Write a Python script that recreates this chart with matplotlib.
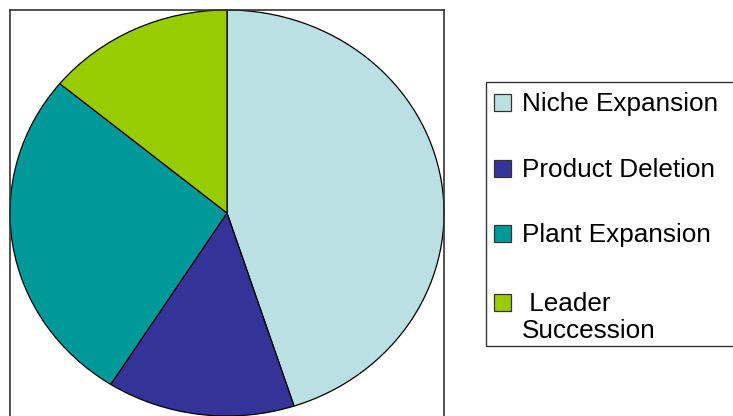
import matplotlib
matplotlib.use("Agg")
import matplotlib.pyplot as plt
from matplotlib.patches import Rectangle

labels = ["Niche Expansion", "Product Deletion", "Plant Expansion", " Leader\nSuccession"]
shares = [45, 14, 27, 14]
colors = ["#BBE0E3", "#333399", "#009999", "#99CC00"]

W, H = 733, 416
fig = plt.figure(figsize=(W / 100, H / 100), dpi=100)

def fx(x):
    return x / W

def fy(y):
    return 1 - y / H

# pie area: frame from x=10..444, top y=10, runs past the bottom
ax = fig.add_axes([fx(10), fy(430), 434 / W, 420 / H])
ax.pie(shares, colors=colors, startangle=90, counterclock=False,
       wedgeprops=dict(edgecolor="black", linewidth=0.9))
ax.set_aspect("auto")
ax.set_xlim(-1, 1)
ax.set_ylim(-(430 - 213) / 203, 1)
ax.set_frame_on(True)
ax.set_xticks([])
ax.set_yticks([])
for side in ["left", "top", "right"]:
    ax.spines[side].set_color("#333333")
    ax.spines[side].set_linewidth(1.2)
ax.spines["bottom"].set_visible(False)

# legend box
fig.patches.append(Rectangle((fx(486), fy(346)), (760 - 486) / W, (346 - 82) / H,
                             transform=fig.transFigure, facecolor="white",
                             edgecolor="#333333", linewidth=1.0))

bottoms = [111, 177, 242, 311]
for lab, col, yb in zip(labels, colors, bottoms):
    fig.patches.append(Rectangle((fx(494), fy(yb)), 17 / W, 17 / H,
                                 transform=fig.transFigure, facecolor=col,
                                 edgecolor="#333333", linewidth=0.9))
    # each line on its own, first baseline level with the swatch bottom
    for i, line in enumerate(lab.split("\n")):
        fig.text(fx(522), fy(yb + 27 * i), line, fontsize=18.8,
                 family="Liberation Sans", ha="left", va="baseline",
                 color="black")

fig.savefig("out.png", dpi=100)
